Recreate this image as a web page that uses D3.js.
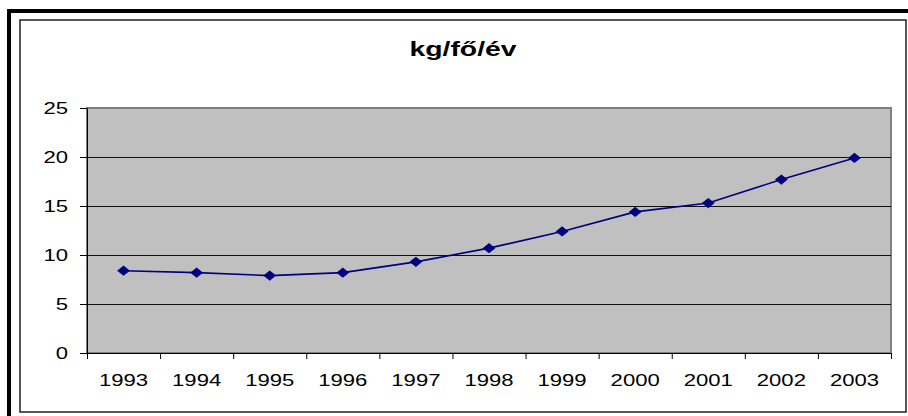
<!DOCTYPE html>
<html>
<head>
<meta charset="utf-8">
<script src="https://cdn.jsdelivr.net/npm/d3@7"></script>
<style>
  body { margin: 0; background: #fff; }
  svg { display: block; font-family: "Liberation Sans", Arial, sans-serif; }
</style>
</head>
<body>
<svg width="908" height="416"></svg>
<script>
// data
var years = ['1993','1994','1995','1996','1997','1998','1999','2000','2001','2002','2003']
var values = [8.4, 8.2, 7.9, 8.2, 9.3, 10.7, 12.4, 14.4, 15.3, 17.7, 19.9]
var yTicks = [0, 5, 10, 15, 20, 25]
var gridTicks = [5, 10, 15, 20]
var title = 'kg/fő/év'

var svg = d3.select('svg'),
    plot = {left: 87, right: 891, top: 108, bottom: 353},
    stretch = 1.3

// frames
svg.append('rect')
    .attr('x', 9).attr('y', 11)
    .attr('width', 920).attr('height', 420)
    .attr('fill', 'none').attr('stroke', '#000').attr('stroke-width', 4)
svg.append('rect')
    .attr('x', 20).attr('y', 20)
    .attr('width', 886).attr('height', 392)
    .attr('fill', 'none').attr('stroke', '#222').attr('stroke-width', 1.5)

var x = d3.scaleBand().domain(years).range([plot.left, plot.right])
var y = d3.scaleLinear().domain([0, 25]).range([plot.bottom, plot.top])
var xEdge = d3.scaleLinear().domain([0, years.length]).range([plot.left, plot.right])

// plot area
svg.append('rect')
    .attr('x', plot.left).attr('y', y(25))
    .attr('width', plot.right - plot.left).attr('height', y(0) - y(25))
    .attr('fill', '#c0c0c0').attr('stroke', '#808080').attr('stroke-width', 2)

svg.append('g').selectAll('line')
    .data(gridTicks)
    .enter().append('line')
    .attr('x1', plot.left).attr('x2', plot.right)
    .attr('y1', d=>Math.round(y(d)) + 0.5).attr('y2', d=>Math.round(y(d)) + 0.5)
    .attr('stroke', '#111').attr('stroke-width', 1)

// y axis
var yAxis = svg.append('g')
    .attr('transform', 'translate(' + plot.left + ',0)')
    .call(d3.axisLeft(y).tickValues(yTicks).tickSize(7).tickPadding(0).tickSizeOuter(0))
yAxis.select('.domain').attr('stroke', '#000')
yAxis.selectAll('.tick line').attr('stroke', '#000')
yAxis.selectAll('.tick text')
    .attr('x', -19 / stretch)
    .attr('dy', '0.34em')
    .attr('transform', 'scale(' + stretch + ',1)')
    .style('font-size', '17px').attr('fill', '#000')

// x axis: ticks between categories
var xAxis = svg.append('g')
    .attr('transform', 'translate(0,' + plot.bottom + ')')
    .call(d3.axisBottom(xEdge).ticks(years.length).tickSize(6).tickFormat('').tickSizeOuter(0))
xAxis.select('.domain').attr('stroke', '#000')
xAxis.selectAll('.tick line').attr('stroke', '#000')

svg.append('g').selectAll('text')
    .data(years)
    .enter().append('text')
    .attr('transform', d=>'translate(' + (x(d) + x.bandwidth() / 2) + ',' + (plot.bottom + 33) + ') scale(' + stretch + ',1)')
    .attr('text-anchor', 'middle')
    .style('font-size', '17px')
    .text(d=>d)

// line + markers
var line = d3.line()
    .x((d,i)=>x(years[i]) + x.bandwidth() / 2)
    .y(d=>y(d))

svg.append('path')
    .datum(values)
    .attr('d', line)
    .attr('fill', 'none').attr('stroke', '#000080').attr('stroke-width', 1.6)

svg.append('g').selectAll('path')
    .data(values)
    .enter().append('path')
    .attr('d', d3.symbol().type(d3.symbolSquare).size(62))
    .attr('transform', (d,i)=>'translate(' + (x(years[i]) + x.bandwidth() / 2) + ',' + y(d) + ') scale(1.15,0.92) rotate(45)')
    .attr('fill', '#000080')

// title
svg.append('text')
    .attr('transform', 'translate(463,56) scale(1.35,1)')
    .attr('text-anchor', 'middle')
    .style('font-size', '21px').style('font-weight', 'bold')
    .text(title)
</script>
</body>
</html>
